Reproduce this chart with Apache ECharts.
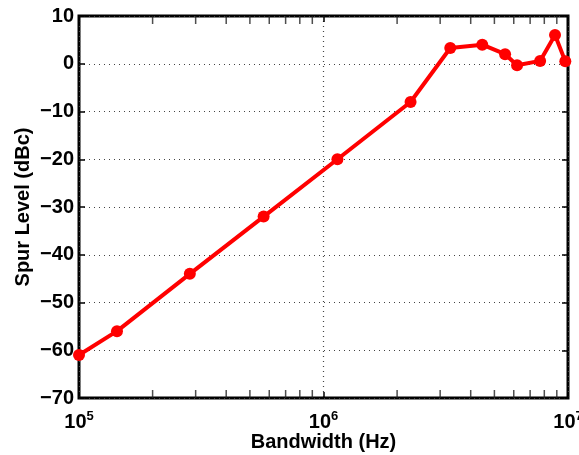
<!DOCTYPE html>
<html>
<head>
<meta charset="utf-8">
<script src="https://cdn.jsdelivr.net/npm/echarts@6/dist/echarts.min.js"></script>
<style>
  html, body { margin: 0; padding: 0; background: #fff; }
  #chart { width: 579px; height: 455px; }
</style>
</head>
<body>
<div id="chart"></div>
<script>
    // bandwidth (Hz) vs spur level (dBc)
    let bandwidth = [1.0e5, 1.43e5, 2.84e5, 5.69e5, 1.14e6, 2.27e6, 3.3e6, 4.46e6, 5.53e6, 6.19e6, 7.69e6, 8.85e6, 9.75e6]
    let spurLevel = [-61, -56, -44, -32, -20, -8, 3.3, 4, 2, -0.3, 0.6, 6, 0.5]
    let yTicks = [-70, -60, -50, -40, -30, -20, -10, 0, 10]
    let minorMult = [2, 3, 4, 5, 6, 7, 8, 9]
    let decades = [1e5, 1e6]

    let chart = echarts.init(document.getElementById('chart'));
    let font = '"Liberation Sans", Arial, sans-serif'

    // minor log ticks (2..9 x 10^n) along the bottom and top edges
    let minorBottom = []
    let minorTop = []
    decades.forEach(function (d) {
        minorMult.forEach(function (m) {
            minorBottom.push([m * d, yTicks[0]])
            minorTop.push([m * d, yTicks[yTicks.length - 1]])
        })
    })

    let tickStyle = { show: true, inside: true, length: 6, lineStyle: { color: '#000', width: 1.5 } }
    let gridLine = { show: true, lineStyle: { color: '#444', type: [1, 4], width: 1.2 } }
    let nameStyle = { fontFamily: font, fontWeight: 'bold', fontSize: 20, color: '#000' }

    let option = {
        animation: false,
        grid: {
            left: 79, right: 11, top: 16, bottom: 57,
            outerBoundsMode: 'none',
            containLabel: false,
            show: true, borderColor: '#000', borderWidth: 3, backgroundColor: '#fff'
        },
        xAxis: [{
            type: 'log',
            logBase: 10,
            min: 1e5,
            max: 1e7,
            position: 'bottom',
            name: 'Bandwidth (Hz)',
            nameLocation: 'middle',
            nameGap: 34,
            nameMoveOverlap: false,
            nameTextStyle: nameStyle,
            axisLine: { show: false, onZero: false },
            axisTick: tickStyle,
            axisLabel: {
                margin: 12,
                hideOverlap: false,
                formatter: function (v) {
                    return '{b|10}{s|' + Math.round(Math.log10(v)) + '}'
                },
                rich: {
                    b: { fontFamily: font, fontWeight: 'bold', fontSize: 20, color: '#000' },
                    s: { fontFamily: font, fontWeight: 'bold', fontSize: 13, color: '#000', padding: [0, 0, 12, 0] }
                }
            },
            splitLine: gridLine
        }, {
            type: 'log',
            logBase: 10,
            min: 1e5,
            max: 1e7,
            position: 'top',
            axisLine: { show: false, onZero: false },
            axisTick: tickStyle,
            axisLabel: { show: false },
            splitLine: { show: false }
        }],
        yAxis: [{
            type: 'value',
            min: -70,
            max: 10,
            interval: 10,
            name: 'Spur Level (dBc)',
            nameLocation: 'middle',
            nameGap: 46,
            nameMoveOverlap: false,
            nameTextStyle: nameStyle,
            axisLine: { show: false, onZero: false },
            axisTick: tickStyle,
            axisLabel: {
                margin: 5,
                fontFamily: font,
                fontWeight: 'bold',
                fontSize: 20,
                color: '#000',
                formatter: function (v) { return v < 0 ? '\u2212' + Math.abs(v) : String(v) }
            },
            splitLine: gridLine
        }, {
            type: 'value',
            min: -70,
            max: 10,
            interval: 10,
            position: 'right',
            axisLine: { show: false, onZero: false },
            axisTick: tickStyle,
            axisLabel: { show: false },
            splitLine: { show: false }
        }],
        series: [{
            name: 'minor bottom',
            type: 'scatter',
            clip: false,
            symbol: 'rect',
            symbolSize: [1.5, 8],
            symbolOffset: [0, -4],
            itemStyle: { color: '#222' },
            silent: true,
            z: 4,
            data: minorBottom
        }, {
            name: 'minor top',
            type: 'scatter',
            clip: false,
            symbol: 'rect',
            symbolSize: [1.5, 8],
            symbolOffset: [0, 4],
            itemStyle: { color: '#222' },
            silent: true,
            z: 4,
            data: minorTop
        }, {
            name: 'spur',
            type: 'line',
            clip: false,
            symbol: 'circle',
            symbolSize: 12,
            showAllSymbol: true,
            lineStyle: { color: '#ff0000', width: 4 },
            itemStyle: { color: '#ff0000' },
            z: 5,
            data: bandwidth.map(function (b, i) { return [b, spurLevel[i]] })
        }]
    };
    chart.setOption(option);
</script>
</body>
</html>
